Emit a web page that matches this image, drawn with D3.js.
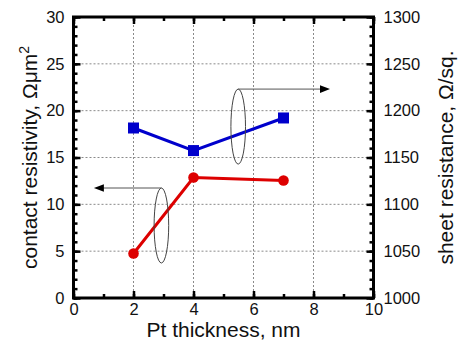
<!DOCTYPE html>
<html>
<head>
<meta charset="utf-8">
<script src="https://cdn.jsdelivr.net/npm/d3@7"></script>
<style>
  body { margin: 0; background: #fff; }
  svg text { font-family: Arial, "Liberation Sans", sans-serif; fill: #111; }
</style>
</head>
<body>
<script>
// data
var thickness = [2, 4, 7];
var contactRes = [4.75, 12.86, 12.54];      // left axis, Ohm um^2
var sheetRes = [1181.5, 1157.4, 1192.2];    // right axis, Ohm/sq
var xTicks = [0, 2, 4, 6, 8, 10];
var yLeftTicks = [0, 5, 10, 15, 20, 25, 30];
var yRightTicks = [1000, 1050, 1100, 1150, 1200, 1250, 1300];

var width = 460, height = 341;
// plot box (note: "top" is reserved on window, so use pTop etc.)
var pLeft = 73.5, pRight = 373.5, pTop = 17, pBottom = 298;

var svg = d3.select("body").append("svg")
    .attr("width", width)
    .attr("height", height);

var x = d3.scaleLinear().domain([0, 10]).range([pLeft, pRight]);
var yL = d3.scaleLinear().domain([0, 30]).range([pBottom, pTop]);
var yR = d3.scaleLinear().domain([1000, 1300]).range([pBottom, pTop]);

// grid
var grid = svg.append("g").attr("stroke", "#8a8a8a").attr("stroke-width", 1).attr("stroke-dasharray", "2,2");
grid.selectAll(".gx").data(xTicks.slice(1, -1)).enter().append("line")
    .attr("x1", d => x(d)).attr("x2", d => x(d))
    .attr("y1", pTop).attr("y2", pBottom);
grid.selectAll(".gy").data(yLeftTicks.slice(1, -1)).enter().append("line")
    .attr("x1", pLeft).attr("x2", pRight)
    .attr("y1", d => yL(d)).attr("y2", d => yL(d));

// axes (ticks point inward)
function styleAxis(g) {
    g.select(".domain").remove();
    g.selectAll("line").attr("stroke", "#000").attr("stroke-width", 2.5);
    g.selectAll("text").attr("font-size", "16.5px").attr("fill", "#111")
        .attr("font-family", "Arial, 'Liberation Sans', sans-serif");
}

svg.append("g").attr("transform", "translate(0," + pBottom + ")")
    .call(d3.axisBottom(x).tickValues(d3.range(0, 11, 1)).tickSize(-4).tickFormat(""))
    .call(styleAxis);
svg.append("g").attr("transform", "translate(0," + pBottom + ")")
    .call(d3.axisBottom(x).tickValues(xTicks).tickSize(-7).tickPadding(5))
    .call(styleAxis);
svg.append("g").attr("transform", "translate(0," + pTop + ")")
    .call(d3.axisTop(x).tickValues(d3.range(0, 11, 1)).tickSize(-4).tickFormat(""))
    .call(styleAxis);
svg.append("g").attr("transform", "translate(0," + pTop + ")")
    .call(d3.axisTop(x).tickValues(xTicks).tickSize(-7).tickFormat(""))
    .call(styleAxis);

svg.append("g").attr("transform", "translate(" + pLeft + ",0)")
    .call(d3.axisLeft(yL).tickValues(d3.range(0, 31, 1)).tickSize(-4).tickFormat(""))
    .call(styleAxis);
svg.append("g").attr("transform", "translate(" + pLeft + ",0)")
    .call(d3.axisLeft(yL).tickValues(yLeftTicks).tickSize(-7).tickPadding(9))
    .call(styleAxis);

svg.append("g").attr("transform", "translate(" + pRight + ",0)")
    .call(d3.axisRight(yR).tickValues(d3.range(1000, 1301, 10)).tickSize(-4).tickFormat(""))
    .call(styleAxis);
svg.append("g").attr("transform", "translate(" + pRight + ",0)")
    .call(d3.axisRight(yR).tickValues(yRightTicks).tickSize(-7).tickPadding(10).tickFormat(d3.format("d")))
    .call(styleAxis);

// frame
svg.append("rect")
    .attr("x", pLeft).attr("y", pTop)
    .attr("width", pRight - pLeft).attr("height", pBottom - pTop)
    .attr("fill", "none").attr("stroke", "#000").attr("stroke-width", 3);

// sheet resistance (blue squares, right axis)
var blue = "#0000cc", red = "#dd0000";
svg.append("path").datum(thickness.map((t, i) => [t, sheetRes[i]]))
    .attr("fill", "none").attr("stroke", blue).attr("stroke-width", 3)
    .attr("d", d3.line().x(d => x(d[0])).y(d => yR(d[1])));
svg.selectAll(".sq").data(thickness).enter().append("rect")
    .attr("x", (d, i) => x(d) - 5.5).attr("y", (d, i) => yR(sheetRes[i]) - 5.5)
    .attr("width", 11).attr("height", 11).attr("fill", blue);

// contact resistivity (red circles, left axis)
svg.append("path").datum(thickness.map((t, i) => [t, contactRes[i]]))
    .attr("fill", "none").attr("stroke", red).attr("stroke-width", 3)
    .attr("d", d3.line().x(d => x(d[0])).y(d => yL(d[1])));
svg.selectAll(".dot").data(thickness).enter().append("circle")
    .attr("cx", d => x(d)).attr("cy", (d, i) => yL(contactRes[i]))
    .attr("r", 5.3).attr("fill", red);

// ellipse + arrow annotations
function marker(cx, cy, tipX) {
    var ex = x(cx), ey = yL(cy), rx = 7.3, ry = 37.5;
    svg.append("ellipse").attr("cx", ex).attr("cy", ey).attr("rx", rx).attr("ry", ry)
        .attr("fill", "none").attr("stroke", "#444").attr("stroke-width", 1);
    var ty = ey - ry, tx = x(tipX), dir = tx > ex ? -1 : 1;
    svg.append("line").attr("x1", ex).attr("x2", tx + dir * 8).attr("y1", ty).attr("y2", ty)
        .attr("stroke", "#555").attr("stroke-width", 1);
    svg.append("path")
        .attr("d", "M" + tx + "," + ty + "L" + (tx + dir * 10) + "," + (ty - 3.8) + "L" + (tx + dir * 10) + "," + (ty + 3.8) + "Z")
        .attr("fill", "#000");
}
marker(2.93, 7.74, 0.68);
marker(5.49, 18.3, 8.55);

// axis titles
svg.append("text")
    .attr("x", (pLeft + pRight) / 2).attr("y", 337)
    .attr("text-anchor", "middle").attr("font-size", "21px")
    .text("Pt thickness, nm");

var lt = svg.append("text")
    .attr("transform", "translate(37," + ((pTop + pBottom) / 2) + ") rotate(-90)")
    .attr("text-anchor", "middle").attr("font-size", "21px");
lt.append("tspan").text("contact resistivity,  Ωμm");
lt.append("tspan").attr("dy", -8).attr("font-size", "14px").text("2");

svg.append("text")
    .attr("transform", "translate(453," + ((pTop + pBottom) / 2) + ") rotate(-90)")
    .attr("text-anchor", "middle").attr("font-size", "21px")
    .text("sheet resistance, Ω/sq.");
</script>
</body>
</html>
